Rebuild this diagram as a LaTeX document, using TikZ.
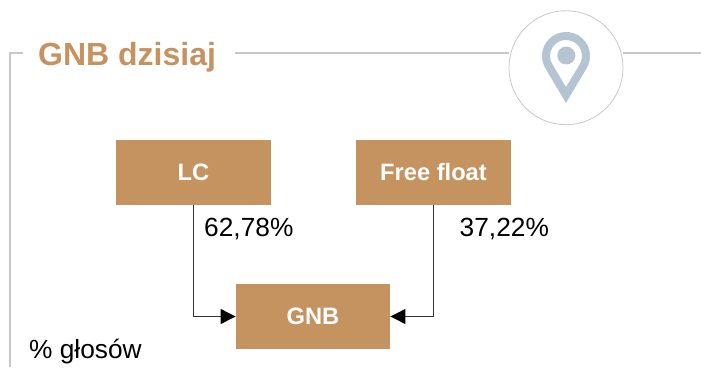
\documentclass[tikz,border=0pt]{standalone}
\usepackage{fontspec}
\setmainfont{Liberation Sans}
\usetikzlibrary{arrows.meta, positioning}
\definecolor{gold}{HTML}{C4935F}
\definecolor{framegrey}{HTML}{C8C8C8}
\definecolor{pinblue}{HTML}{B4C4D3}
\tikzstyle{box} = [rectangle, minimum width = 154.5pt, minimum height = 64.5pt, text centered, inner sep = 0pt, fill = gold, text = white, font = \fontsize{23.7}{26}\selectfont\bfseries]
\tikzstyle{label} = [anchor = base west, inner sep = 0pt, font = \fontsize{26.3}{30}\selectfont]
\tikzstyle{arrow} = [-{Triangle[length = 15pt, width = 15pt, fill = black, color = black]}, draw = black!80, line width = 1.2pt]
\tikzstyle{frameline} = [draw = framegrey, line width = 1.2pt]

\begin{document}
\begin{tikzpicture}[x = 1pt, y = 1pt, node distance = 20pt]
\useasboundingbox (0, 0) rectangle (701, -367);

%NODES
\node (title) [anchor = base west, inner sep = 0pt, text = gold, font = \fontsize{32}{36}\selectfont\bfseries] at (38, -65) {GNB dzisiaj};
\node (pincircle) [circle, draw = framegrey, line width = 0.8pt, minimum size = 114pt, inner sep = 0pt] at (566, -67.7) {};
\node (lc) [box] at (193.5, -172.5) {LC};
\node (freefloat) [box, right of = lc, xshift = 220pt] {Free float};
\node (gnb) [box, below of = lc, xshift = 119.5pt, yshift = -124pt] {GNB};
\node (lcvalue) [label] at (204, -236) {62,78\%};
\node (freevalue) [label] at (459.5, -236) {37,22\%};
\node (votes) [label] at (29, -358) {\% głosów};

\coordinate (framebottom) at (10, -367);
\coordinate (framecorner) at (10, -53);
\coordinate (framestart) at (23, -53);
\coordinate (titleend) at (235, -53);
\coordinate (frameend) at (701, -53);

%FRAME
\draw [frameline] (framebottom) -- (framecorner) -- (framestart);
\draw [frameline] (titleend) -- (titleend -| pincircle.west);
\draw [frameline] (frameend -| pincircle.east) -- (frameend);

%PIN
\fill [pinblue, even odd rule] (566, -103) -- ([shift = {(-30.7:24)}]566, -56) arc [start angle = -30.7, end angle = 209.3, radius = 24] -- cycle
  (566, -87) -- ([shift = {(-31.1:16)}]566, -56) arc [start angle = -31.1, end angle = 211.1, radius = 16] -- cycle;
\fill [pinblue] (566.3, -55.5) circle [radius = 9];

%ARROWS
\draw [arrow] (lc.south) |- (gnb.west);
\draw [arrow] (freefloat.south) |- (gnb.east);

\end{tikzpicture}
\end{document}
